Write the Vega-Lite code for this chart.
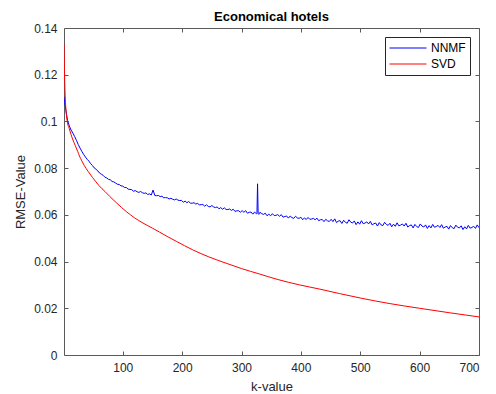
{
  "$schema": "https://vega.github.io/schema/vega-lite/v6.json",
  "width": 415,
  "height": 327,
  "autosize": "none",
  "padding": {"left": 64, "top": 28, "right": 17, "bottom": 39},
  "background": "white",
  "title": {"text": "Economical hotels", "font": "Liberation Sans", "fontSize": 13, "fontWeight": "bold", "color": "#000000", "offset": -2},
  "config": {
    "view": {"stroke": null},
    "axis": {"grid": false, "domainColor": "#5a5a5a", "tickColor": "#5a5a5a", "labelColor": "#262626", "titleColor": "#262626", "labelFont": "Liberation Sans", "titleFont": "Liberation Sans", "labelFontSize": 12, "titleFontSize": 13, "titleFontWeight": "normal", "tickSize": -4}
  },
  "datasets": {
    "nnmf": [
      {"k":1,"v":0.1105},{"k":2,"v":0.1085},{"k":4,"v":0.1050},{"k":7,"v":0.1005},{"k":10,"v":0.0980},{"k":13,"v":0.0963},{"k":16,"v":0.0950},{"k":19,"v":0.0935},{"k":22,"v":0.0919},{"k":25,"v":0.0901},{"k":28,"v":0.0886},{"k":31,"v":0.0872},{"k":34,"v":0.0859},{"k":37,"v":0.0848},{"k":40,"v":0.0838},{"k":43,"v":0.0830},{"k":46,"v":0.0819},{"k":49,"v":0.0811},{"k":52,"v":0.0801},{"k":55,"v":0.0795},{"k":58,"v":0.0788},{"k":61,"v":0.0779},{"k":64,"v":0.0774},{"k":67,"v":0.0769},{"k":70,"v":0.0761},{"k":73,"v":0.0758},{"k":76,"v":0.0752},{"k":79,"v":0.0750},{"k":82,"v":0.0743},{"k":85,"v":0.0741},{"k":88,"v":0.0736},{"k":91,"v":0.0731},{"k":94,"v":0.0730},{"k":97,"v":0.0724},
      {"k":100,"v":0.0723},{"k":103,"v":0.0717},{"k":106,"v":0.0717},{"k":109,"v":0.0710},{"k":112,"v":0.0709},{"k":115,"v":0.0708},{"k":118,"v":0.0701},{"k":121,"v":0.0704},{"k":124,"v":0.0699},{"k":127,"v":0.0696},{"k":130,"v":0.0700},{"k":133,"v":0.0695},{"k":136,"v":0.0692},{"k":139,"v":0.0694},{"k":142,"v":0.0687},{"k":145,"v":0.0690},{"k":148,"v":0.0685},{"k":151,"v":0.0706},{"k":154,"v":0.0683},{"k":157,"v":0.0682},{"k":160,"v":0.0683},{"k":163,"v":0.0678},{"k":166,"v":0.0680},{"k":169,"v":0.0673},{"k":172,"v":0.0674},{"k":175,"v":0.0673},{"k":178,"v":0.0668},{"k":181,"v":0.0671},{"k":184,"v":0.0667},{"k":187,"v":0.0664},{"k":190,"v":0.0668},{"k":193,"v":0.0663},{"k":196,"v":0.0661},{"k":199,"v":0.0662},
      {"k":202,"v":0.0654},{"k":205,"v":0.0659},{"k":208,"v":0.0652},{"k":211,"v":0.0657},{"k":214,"v":0.0650},{"k":217,"v":0.0650},{"k":220,"v":0.0652},{"k":223,"v":0.0646},{"k":226,"v":0.0650},{"k":229,"v":0.0642},{"k":232,"v":0.0644},{"k":235,"v":0.0644},{"k":238,"v":0.0637},{"k":241,"v":0.0643},{"k":244,"v":0.0636},{"k":247,"v":0.0634},{"k":250,"v":0.0640},{"k":253,"v":0.0634},{"k":256,"v":0.0631},{"k":259,"v":0.0634},{"k":262,"v":0.0626},{"k":265,"v":0.0631},{"k":268,"v":0.0624},{"k":271,"v":0.0630},{"k":274,"v":0.0623},{"k":277,"v":0.0623},{"k":280,"v":0.0625},{"k":283,"v":0.0619},{"k":286,"v":0.0624},{"k":289,"v":0.0615},{"k":292,"v":0.0617},{"k":295,"v":0.0618},{"k":298,"v":0.0611},
      {"k":301,"v":0.0618},{"k":304,"v":0.0611},{"k":307,"v":0.0618},{"k":310,"v":0.0607},{"k":313,"v":0.0611},{"k":316,"v":0.0612},{"k":319,"v":0.0603},{"k":322,"v":0.0612},{"k":325,"v":0.0605},{"k":326,"v":0.0606},{"k":327,"v":0.0733},{"k":328,"v":0.0605},{"k":329,"v":0.0602},{"k":331,"v":0.0611},{"k":334,"v":0.0605},{"k":337,"v":0.0602},{"k":340,"v":0.0607},{"k":343,"v":0.0596},{"k":346,"v":0.0603},{"k":349,"v":0.0596},{"k":352,"v":0.0605},{"k":355,"v":0.0597},{"k":358,"v":0.0598},{"k":361,"v":0.0601},{"k":364,"v":0.0594},{"k":367,"v":0.0601},{"k":370,"v":0.0590},{"k":373,"v":0.0593},{"k":376,"v":0.0595},{"k":379,"v":0.0586},{"k":382,"v":0.0595},{"k":385,"v":0.0588},{"k":388,"v":0.0585},{"k":391,"v":0.0594},{"k":394,"v":0.0587},{"k":397,"v":0.0585},
      {"k":400,"v":0.0590},{"k":403,"v":0.0579},{"k":406,"v":0.0587},{"k":409,"v":0.0580},{"k":412,"v":0.0589},{"k":415,"v":0.0581},{"k":418,"v":0.0582},{"k":421,"v":0.0585},{"k":424,"v":0.0579},{"k":427,"v":0.0586},{"k":430,"v":0.0575},{"k":433,"v":0.0579},{"k":436,"v":0.0580},{"k":439,"v":0.0571},{"k":442,"v":0.0581},{"k":445,"v":0.0574},{"k":448,"v":0.0572},
      {"k":451,"v":0.0581},{"k":454,"v":0.0571},{"k":457,"v":0.0583},{"k":460,"v":0.0567},{"k":463,"v":0.0573},{"k":466,"v":0.0575},{"k":469,"v":0.0563},{"k":472,"v":0.0577},{"k":475,"v":0.0568},{"k":478,"v":0.0564},{"k":481,"v":0.0579},{"k":484,"v":0.0569},{"k":487,"v":0.0565},{"k":490,"v":0.0574},{"k":493,"v":0.0558},{"k":496,"v":0.0570},{"k":499,"v":0.0560},
      {"k":502,"v":0.0575},{"k":505,"v":0.0562},{"k":508,"v":0.0565},{"k":511,"v":0.0570},{"k":514,"v":0.0561},{"k":517,"v":0.0572},{"k":520,"v":0.0557},{"k":523,"v":0.0562},{"k":526,"v":0.0565},{"k":529,"v":0.0552},{"k":532,"v":0.0567},{"k":535,"v":0.0557},{"k":538,"v":0.0554},{"k":541,"v":0.0568},{"k":544,"v":0.0559},{"k":547,"v":0.0555},{"k":550,"v":0.0564},{"k":553,"v":0.0549},{"k":556,"v":0.0560},{"k":559,"v":0.0551},{"k":562,"v":0.0566},{"k":565,"v":0.0553},{"k":568,"v":0.0556},{"k":571,"v":0.0561},{"k":574,"v":0.0552},{"k":577,"v":0.0564},{"k":580,"v":0.0548},{"k":583,"v":0.0554},{"k":586,"v":0.0557},{"k":589,"v":0.0544},{"k":592,"v":0.0559},{"k":595,"v":0.0550},{"k":598,"v":0.0546},
      {"k":601,"v":0.0561},{"k":604,"v":0.0552},{"k":607,"v":0.0548},{"k":610,"v":0.0557},{"k":613,"v":0.0542},{"k":616,"v":0.0554},{"k":619,"v":0.0544},{"k":622,"v":0.0559},{"k":625,"v":0.0547},{"k":628,"v":0.0550},{"k":631,"v":0.0555},{"k":634,"v":0.0546},{"k":637,"v":0.0558},{"k":640,"v":0.0543},{"k":643,"v":0.0548},{"k":646,"v":0.0551},{"k":649,"v":0.0539},{"k":652,"v":0.0554},{"k":655,"v":0.0545},{"k":658,"v":0.0541},{"k":661,"v":0.0556},{"k":664,"v":0.0547},{"k":667,"v":0.0544},{"k":670,"v":0.0553},{"k":673,"v":0.0537},{"k":676,"v":0.0549},{"k":679,"v":0.0540},{"k":682,"v":0.0555},{"k":685,"v":0.0543},{"k":688,"v":0.0546},{"k":691,"v":0.0551},{"k":694,"v":0.0542},{"k":697,"v":0.0557},{"k":700,"v":0.0545}
    ],
    "svd": [
      {"k":1,"v":0.1330},{"k":2,"v":0.1190},{"k":3,"v":0.1110},{"k":4,"v":0.1060},{"k":5,"v":0.1030},{"k":7,"v":0.0993},{"k":10,"v":0.0968},{"k":13,"v":0.0943},{"k":16,"v":0.0921},{"k":20,"v":0.0897},{"k":24,"v":0.0872},{"k":27,"v":0.0852},{"k":31,"v":0.0831},{"k":35,"v":0.0812},{"k":42,"v":0.0785},{"k":49,"v":0.0760},{"k":55,"v":0.0741},{"k":60,"v":0.0725},{"k":70,"v":0.0700},{"k":78,"v":0.0679},{"k":90,"v":0.0650},{"k":106,"v":0.0614},{"k":120,"v":0.0587},{"k":134,"v":0.0565},{"k":150,"v":0.0543},{"k":162,"v":0.0526},{"k":176,"v":0.0506},{"k":190,"v":0.0487},{"k":204,"v":0.0468},{"k":218,"v":0.0450},{"k":245,"v":0.0420},{"k":274,"v":0.0393},{"k":300,"v":0.0370},{"k":330,"v":0.0347},{"k":360,"v":0.0324},{"k":398,"v":0.0300},{"k":432,"v":0.0282},{"k":465,"v":0.0263},{"k":500,"v":0.0244},{"k":550,"v":0.0220},{"k":600,"v":0.0200},{"k":650,"v":0.0181},{"k":700,"v":0.0163}
    ]
  },
  "layer": [
    {
      "data": {"name": "nnmf"},
      "transform": [{"calculate": "'NNMF'", "as": "s"}],
      "mark": {"type": "line", "strokeWidth": 1, "clip": true, "interpolate": "linear"},
      "encoding": {
        "x": {"field": "k", "type": "quantitative", "scale": {"domain": [1, 700], "nice": false, "zero": false}, "axis": {"orient": "bottom", "title": "k-value", "values": [100, 200, 300, 400, 500, 600, 700], "labelPadding": 11, "titlePadding": 7}},
        "y": {"field": "v", "type": "quantitative", "scale": {"domain": [0, 0.14], "nice": false}, "axis": {"orient": "left", "title": "RMSE-Value", "values": [0, 0.02, 0.04, 0.06, 0.08, 0.1, 0.12, 0.14], "format": ".2~f", "labelPadding": 11, "titlePadding": 6}},
        "color": {"field": "s", "type": "nominal", "scale": {"domain": ["NNMF", "SVD"], "range": ["#0000ff", "#ff0000"]}, "legend": {"orient": "top-right", "offset": 9, "title": null, "symbolType": "stroke", "symbolSize": 1369, "symbolStrokeWidth": 1, "clipHeight": 14, "rowPadding": 2, "padding": 4, "strokeColor": "#262626", "fillColor": "white", "labelFont": "Liberation Sans", "labelFontSize": 12, "labelColor": "#000000", "labelOffset": 4}}
      }
    },
    {
      "data": {"name": "svd"},
      "transform": [{"calculate": "'SVD'", "as": "s"}],
      "mark": {"type": "line", "strokeWidth": 1, "clip": true, "interpolate": "monotone"},
      "encoding": {
        "x": {"field": "k", "type": "quantitative", "axis": {"orient": "top", "title": null, "labels": false, "values": [100, 200, 300, 400, 500, 600, 700]}},
        "y": {"field": "v", "type": "quantitative", "axis": {"orient": "right", "title": null, "labels": false, "values": [0, 0.02, 0.04, 0.06, 0.08, 0.1, 0.12, 0.14]}},
        "color": {"field": "s", "type": "nominal"}
      }
    }
  ],
  "resolve": {"axis": {"x": "independent", "y": "independent"}}
}
